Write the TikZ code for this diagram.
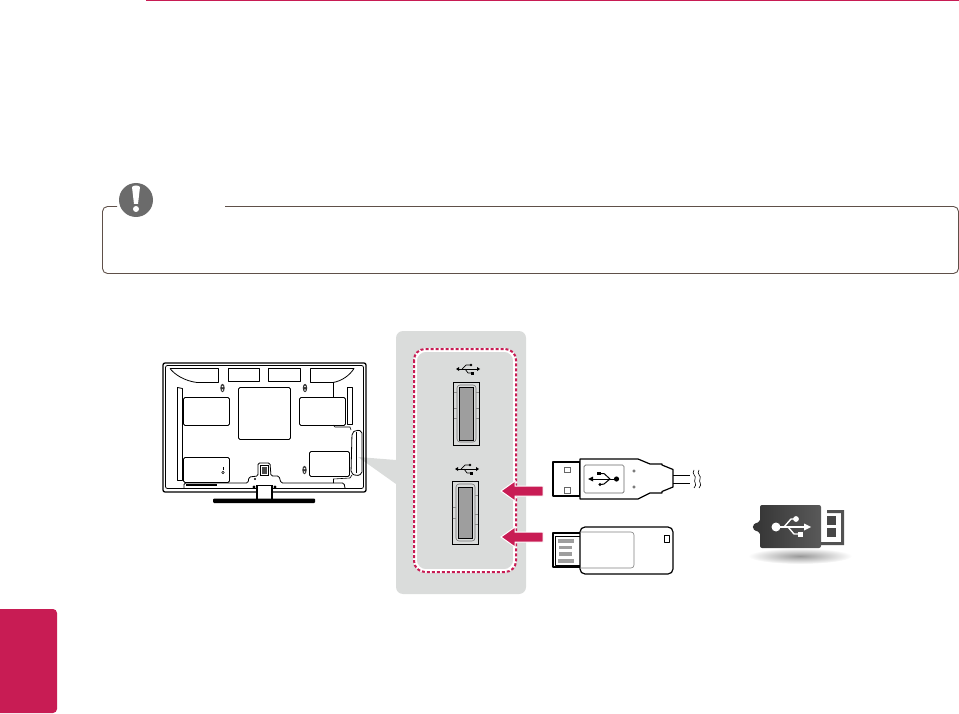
\documentclass[tikz,border=0pt]{standalone}
\usetikzlibrary{calc}

\definecolor{lgred}{HTML}{C81C54}
\definecolor{panelgray}{HTML}{DADCDB}
\definecolor{notebrown}{HTML}{5F5049}

\begin{document}
\begin{tikzpicture}[
		x=1pt, y=-1pt,
		ink/.style={draw=black, line width=0.8pt, line join=round},
		thin ink/.style={draw=black, line width=0.6pt},
		tv/.style={ink, fill=white, rounded corners=1.5pt},
		socket/.style={draw=black, line width=0.9pt, fill=panelgray},
		pushers/.style={fill=lgred, draw=white, line width=1pt, line join=miter},
		usbsign/.pic={
			\draw[black, line width=0.7pt] (-9,0) -- (9,0);
			\fill[black] (-12,0) -- (-9,-2) -- (-9,2) -- cycle;
			\fill[black] (12,0) -- (9,-2) -- (9,2) -- cycle;
			\draw[black, line width=0.7pt] (-6,0) -- (-2,-4) -- (2,-4);
			\fill[black] (3,-4) circle (1.3);
			\draw[black, line width=0.7pt] (-3,0) -- (0,4) -- (3,4);
			\fill[black] (2.5,2.5) rectangle (5.5,5.5);
		},
	]
	\useasboundingbox (0,0) rectangle (959,714);

	% header and side tab
	\draw[lgred, line width=1pt] (146,0.5) -- (959,0.5);
	\fill[lgred, rounded corners=4pt] (-8,609) -- (57,609) -- (57,713) -- (-8,713) -- cycle;

	% note box
	\draw[notebrown, line width=0.9pt, rounded corners=5pt] (117,206.5) -- (102.5,206.5) -- (102.5,273.5)
		-- (958.5,273.5) -- (958.5,206.5) -- (225,206.5);
	\fill[black!58] (136,200) circle (17);
	\fill[white] (132,187) .. controls (133,185) and (139,185) .. (140,187)
		-- (138,204) -- (134,204) -- cycle;
	\fill[white] (136,209) circle (3);

	% gray panel
	\fill[panelgray] (358,457) -- (396,460) -- (396,484) -- cycle;
	\fill[panelgray, rounded corners=7pt] (396,331) rectangle (526,594);
	\draw[white, line width=3.6pt, rounded corners=11pt] (415,350) rectangle (515,571);
	\draw[lgred, line width=2pt, dash pattern=on 3pt off 2pt, rounded corners=11pt]
		(414,349) rectangle (516,572);

	% TV back
	\draw[ink, line width=1.2pt] (257,485) -- (257,500) (272,485) -- (272,500);
	\fill[black, rounded corners=1pt] (213,498.5) rectangle (315,503);
	\draw[ink, line width=1.3pt, rounded corners=2pt] (257,492) -- (163,492) -- (163,363) -- (366,363)
		-- (366,492) -- (272,492);
	\draw[ink, rounded corners=2pt] (257,488.5) -- (165.5,488.5) -- (165.5,365.5) -- (363.5,365.5)
		-- (363.5,488.5) -- (272,488.5);
	\draw[ink] (170,368.5) -- (218.5,368.5) -- (218.5,382.5) -- (197,382.5)
		.. controls (185,381) and (175,375) .. (170,368.5);
	\draw[ink] (228.5,368.5) rectangle (259.5,381.5);
	\draw[ink] (268.5,368.5) rectangle (300.5,381.5);
	\draw[ink] (310.5,368.5) -- (354,368.5) .. controls (350,375) and (342,381) .. (333,382.5) -- (310.5,382.5) -- cycle;
	\draw[ink] (177.5,387.5) -- (182.5,388.5) -- (182.5,480.5) -- (177.5,480.5) -- cycle;
	\draw[ink] (347.5,387.5) rectangle (352.5,424.5);
	\draw[tv] (183.5,397.5) rectangle (229.5,425.5);
	\draw[tv] (238.5,387.5) rectangle (290.5,439.5);
	\draw[tv] (299.5,397.5) rectangle (345.5,425.5);
	\draw[tv] (183.5,457.5) rectangle (229.5,482.5);
	\draw[tv] (309.5,451.5) rectangle (349.5,476.5);
	\draw[thin ink] (333.5,382) -- (333.5,397);
	\draw[thin ink] (333,425) -- (335,427) -- (350,427) -- (351,430);
	\draw[thin ink] (333.5,483) -- (333.5,479) -- (350,478) -- (352,475);
	\draw[ink, rounded corners=2pt] (352,433) -- (356,430) -- (362,431) -- (362,474) -- (356,476) -- (351,473) -- cycle;
	\draw[thin ink] (356,432) -- (356,473);
	% bottom ledge with the stand cut-out
	\draw[ink, rounded corners=1.5pt] (184,488) -- (184,483) -- (248,483) -- (249,477) -- (258,476) -- (258,463)
		-- (270,463) -- (271,476) -- (279,476) -- (281,483) -- (344,483) -- (345,488);
	\draw[ink, line width=1.2pt] (186,485) -- (217,485);
	\draw[thin ink, fill=white] (260,465) rectangle (268,475);
	\fill[black!70] (261.5,466.5) rectangle (266.5,473.5);
	\draw[ink] (257,485) -- (272,485);
	\fill[black] (254,487) circle (1.6) (275,487) circle (1.6);
	\fill[black] (255,479) circle (1.2);
	% screw holes
	\fill[black!80] (222.5,388) ellipse (2.2 and 4.2);
	\fill[black!80] (305,388) ellipse (2.2 and 4.2);
	\fill[black!80] (304.5,470) ellipse (2.2 and 4.2);
	\fill[white] (222.5,386.5) circle (0.8) (222.5,390) circle (0.8) (305,386.5) circle (0.8)
		(305,390) circle (0.8) (304.5,468.5) circle (0.8) (304.5,472) circle (0.8);
	\draw[thin ink] (223,467) -- (223,470);
	\draw[thin ink] (223,472.5) circle (1.2);

	% USB ports on the panel
	\pic at (468,369) {usbsign};
	\pic at (467,469) {usbsign};
	\draw[socket] (453.5,382) rectangle (479,445);
	\draw[black!55, line width=0.6pt, rounded corners=3pt] (457,385) rectangle (476,442);
	\draw[black!45, line width=0.5pt] (453.5,392) -- (457,392) (453.5,408) -- (457,408) (453.5,418) -- (457,418)
		(476,392) -- (479,392) (476,408) -- (479,408) (476,418) -- (479,418);
	\draw[socket, fill=black!38] (459.5,387) rectangle (473.5,440);
	\draw[socket] (452.5,481) rectangle (478,544);
	\draw[black!55, line width=0.6pt, rounded corners=3pt] (456,484) rectangle (475,541);
	\draw[black!45, line width=0.5pt] (452.5,507) -- (456,507) (452.5,518) -- (456,518)
		(475,495) -- (478,495) (475,514) -- (478,514) (475,524) -- (478,524);
	\draw[socket, fill=black!38] (458.5,487) rectangle (472.5,538);

	% arrows
	\draw[pushers] (501,491) -- (515,481) -- (515,486) -- (543,486) -- (543,496) -- (515,496) -- (515,501) -- cycle;
	\draw[pushers] (501,537) -- (515,527) -- (515,532) -- (543,532) -- (543,542) -- (515,542) -- (515,547) -- cycle;

	% USB plug
	\draw[ink, line width=1.1pt] (553,462) rectangle (580,496);
	\draw[black!60, line width=0.7pt] (564,467) rectangle (570,472.5);
	\draw[black!60, line width=0.7pt] (564,487) rectangle (570,493);
	\draw[ink, line width=1.2pt, fill=white] (580,459) -- (638,459) -- (650,464) -- (662,464) -- (662,465) -- (673,469.5)
		-- (673,487) -- (662,491.5) -- (662,493) -- (650,493) -- (638,499) -- (580,499) -- cycle;
	\draw[black!60, line width=0.7pt, rounded corners=1.5pt] (584,465) rectangle (624,493);
	\draw[black!70, line width=0.6pt] (634,471) circle (1.2) (634,487) circle (1.2);
	\draw[black, line width=0.9pt] (673,475) -- (690,475) (673,483) -- (690,483);
	\draw[black, line width=0.6pt] (694,470) .. controls (691,474) and (697,476) .. (695,479)
		.. controls (693,482) and (698,484) .. (694,488);
	\draw[black, line width=0.6pt] (699,470) .. controls (696,474) and (702,476) .. (700,479)
		.. controls (698,482) and (703,484) .. (699,488);
	\draw[black, line width=1pt] (592,479) -- (616,479);
	\fill[black] (616.5,479) circle (2.6);
	\fill[black] (588,479) -- (593,476.5) -- (593,481.5) -- cycle;
	\draw[black, line width=1pt] (598,473.5) -- (604,473.5) -- (610,479) -- (604,484) -- (601,484.5);
	\fill[black] (597,471.5) rectangle (600.5,475);
	\fill[black] (600,484.5) circle (1.6);

	% USB stick
	\draw[ink, line width=1.2pt] (553,533) rectangle (581,567);
	\draw[ink, line width=0.7pt] (555,536) rectangle (581,565.5);
	\fill[black!38] (558,539) rectangle (574,543);
	\fill[black!38] (558.5,546) rectangle (572,549);
	\fill[black!38] (559,552) rectangle (572,556);
	\fill[black!38] (558,559) rectangle (574,563);
	\draw[ink, line width=1.2pt, fill=white, rounded corners=5pt] (580,527) rectangle (673,574);
	\draw[black!50, line width=0.6pt, rounded corners=3pt] (580,532) -- (634,532) -- (634,568) -- (580,568);
	\draw[ink, line width=1pt] (664.5,535) rectangle (669,542);

	% dark USB logo
	\shade[inner color=black!40, outer color=white] (800,556) ellipse (52 and 8);
	\fill[black!68] (827,510) -- (844,510) -- (844,545) -- (821,545) -- (821,542) -- (841,542) -- (841,513) -- (827,513) -- cycle;
	\fill[black!72] (827,516) rectangle (836,524.5);
	\fill[black!72] (827,528) rectangle (836,537);
	\shade[left color=black!80, right color=black!65, rounded corners=2pt]
		(760,505) -- (821,505) -- (821,548) -- (760,548) -- (760,532)
		.. controls (751,530) and (751,524) .. (760,522) -- cycle;
	\fill[white] (776,527) circle (4.5);
	\draw[white, line width=1.4pt] (776,527) -- (806,527);
	\fill[white] (811,527) -- (804,523.5) -- (804,530.5) -- cycle;
	\draw[white, line width=1.4pt] (784,527) -- (791,519) -- (795,519);
	\fill[white] (796,519) circle (2.9);
	\draw[white, line width=1.4pt] (788,527) -- (794,534) -- (799,534);
	\fill[white] (798,531.5) rectangle (803,537);
\end{tikzpicture}
\end{document}
